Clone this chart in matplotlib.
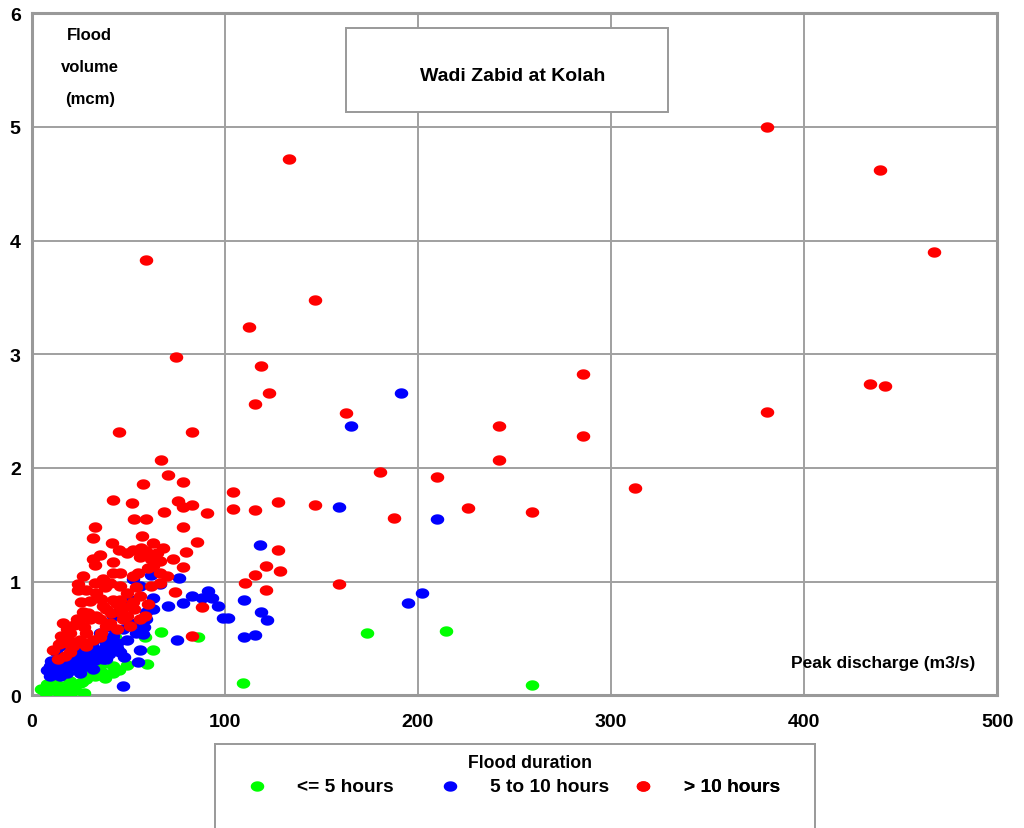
import numpy as np
import matplotlib
matplotlib.use("Agg")
import matplotlib.pyplot as plt
from matplotlib.patches import Rectangle

plt.rcParams['font.family'] = ['Liberation Sans', 'DejaVu Sans']
plt.rcParams['font.weight'] = 'bold'

# Peak discharge (m3/s) and flood volume (mcm)
green_x = [109.3, 259, 173.6, 214.5, 67, 62.7, 86, 59.6, 7.6, 12.8, 19.7, 9.3, 16.2, 24.9,
           28.3, 37.0, 42.1, 42.1, 49.1, 35.2, 30.1, 11.1, 6.7, 22.6, 43.0, 58.5,
           5, 8, 14, 18, 22, 26, 33, 38, 45, 31, 20, 12, 27]
green_y = [0.11, 0.09, 0.55, 0.57, 0.56, 0.40, 0.51, 0.28, 0.02, 0.05, 0.01, 0.08, 0.08, 0.11,
           0.14, 0.20, 0.20, 0.26, 0.27, 0.26, 0.20, 0.14, 0.04, 0.05, 0.51, 0.51,
           0.06, 0.10, 0.02, 0.06, 0.09, 0.12, 0.17, 0.15, 0.22, 0.24, 0.13, 0.11, 0.02]

blue_x = [191.2, 165.3, 159, 209.8, 118.1, 202, 194.8, 109.8, 118.7, 121.8, 115.5, 109.8,
          62.0, 76.3, 66.3, 62.9, 70.6, 78.4, 83.2, 87.9, 91.4, 93.1, 96.5, 99.1, 101.7,
          75.0, 56.0, 55.1, 47.3, 57.7, 59.4, 49.1, 45.6, 37.0, 28.3, 19.7, 11.1, 9.3,
          14.5, 23.1, 35.2, 42.1, 45.6, 50.8, 56.0, 50.8, 54.2, 52.5, 59.4, 16.2, 12.8,
          9.3, 18.0, 24.9, 30.1, 33.5, 38.7, 43.9, 47.3, 28.3, 21.4, 38.7, 31.8, 14.5,
          42.1, 35.2, 8, 10, 12, 15, 17, 20, 22, 25, 27, 30, 33, 26, 31, 38, 40, 44, 48,
          20, 15, 24, 52, 48, 58, 63, 40]
blue_y = [2.66, 2.37, 1.66, 1.55, 1.32, 0.90, 0.81, 0.84, 0.73, 0.66, 0.53, 0.51,
          1.06, 1.03, 0.98, 0.86, 0.79, 0.81, 0.87, 0.86, 0.92, 0.86, 0.79, 0.68, 0.68,
          0.49, 0.40, 0.29, 0.08, 0.54, 0.73, 0.49, 0.38, 0.32, 0.26, 0.26, 0.20, 0.17,
          0.17, 0.32, 0.40, 0.52, 0.76, 0.84, 0.96, 0.64, 0.55, 1.02, 0.67, 0.32, 0.38,
          0.26, 0.20, 0.20, 0.29, 0.38, 0.43, 0.46, 0.58, 0.38, 0.38, 0.32, 0.23, 0.43,
          0.70, 0.55, 0.22, 0.30, 0.25, 0.28, 0.24, 0.30, 0.27, 0.33, 0.28, 0.35, 0.31,
          0.42, 0.45, 0.48, 0.36, 0.42, 0.34, 0.35, 0.22, 0.24, 0.62, 0.70, 0.60, 0.76, 0.60]

red_x = [380.8, 439.4, 467.4, 133.2, 59.1, 146.6, 112.4, 74.6, 118.7, 285.5, 122.8, 115.5,
         162.7, 242, 380.8, 434.2, 442, 285.5, 242, 180.3, 209.8, 312.4, 127.5, 146.6,
         115.5, 226, 187.6, 259, 127.5, 121.3, 128.5, 115.5, 110.2, 159, 121.3,
         45.3, 83.2, 66.7, 70.5, 78.4, 57.5, 104.3, 42.1, 52.0, 75.5, 78.4, 83.2, 68.4,
         91.0, 104.3, 52.8, 59.1, 78.4, 32.6, 31.8, 57.3, 85.8, 41.8, 62.9, 56.8, 45.1,
         49.1, 52.5, 59.4, 64.6, 66.3, 62.0, 79.8, 35.2, 31.8, 32.6, 42.1, 45.6, 42.1,
         78.4, 55.1, 66.3, 26.6, 24.0, 24.0, 32.6, 37.0, 40.4, 45.6, 49.1, 54.2, 56.0,
         66.3, 74.4, 88.4, 33.5, 30.1, 25.7, 26.6, 24.9, 30.1, 33.5, 38.7, 40.4, 45.6,
         49.1, 50.8, 56.0, 38.7, 35.2, 28.3, 24.9, 19.7, 16.2, 15.4, 11.1, 13.6, 19.7,
         21.4, 83.2, 28.3, 31.8, 35.2, 42.1, 45.6, 52.5, 52.5, 56.0, 62.9, 28.3, 23.3,
         18.0, 37.0, 43.9, 47.3, 58.5, 14, 18, 22, 27, 36, 41, 44, 48, 53, 60, 62, 70,
         73, 68, 60, 36, 38, 29, 20, 17]
red_y = [5.00, 4.62, 3.90, 4.72, 3.83, 3.48, 3.24, 2.98, 2.90, 2.83, 2.66, 2.56,
         2.48, 2.37, 2.49, 2.74, 2.72, 2.28, 2.07, 1.96, 1.92, 1.82, 1.70, 1.67,
         1.63, 1.65, 1.56, 1.61, 1.28, 1.14, 1.09, 1.06, 0.99, 0.98, 0.93,
         2.32, 2.32, 2.07, 1.94, 1.88, 1.86, 1.79, 1.72, 1.69, 1.71, 1.66, 1.67, 1.61,
         1.60, 1.64, 1.55, 1.55, 1.48, 1.48, 1.38, 1.40, 1.35, 1.34, 1.34, 1.30, 1.28,
         1.25, 1.28, 1.27, 1.25, 1.18, 1.20, 1.26, 1.23, 1.20, 1.15, 1.17, 1.08, 1.08,
         1.13, 1.08, 1.08, 1.05, 0.98, 0.93, 0.99, 1.02, 0.99, 0.96, 0.90, 0.95, 0.87,
         0.99, 0.91, 0.78, 0.90, 0.83, 0.82, 0.73, 0.67, 0.67, 0.70, 0.76, 0.64, 0.73,
         0.70, 0.61, 0.67, 0.61, 0.51, 0.55, 0.49, 0.55, 0.64, 0.52, 0.40, 0.32, 0.38,
         0.43, 0.52, 0.43, 0.49, 0.67, 0.84, 0.84, 0.82, 1.05, 1.22, 1.14, 0.93, 0.67,
         0.46, 0.79, 0.58, 0.67, 0.70, 0.45, 0.58, 0.62, 0.60, 0.55, 0.72, 0.80, 0.78,
         0.76, 0.80, 0.96, 1.05, 1.20, 1.30, 1.12, 0.85, 0.95, 0.72, 0.48, 0.35]

labels = ['<= 5 hours', '5 to 10 hours', '> 10 hours']
x_ticks = [0, 100, 200, 300, 400, 500]
y_ticks = [0, 1, 2, 3, 4, 5, 6]

# ellipse marker, a bit wider than tall
t = np.linspace(0, 2 * np.pi, 40)
ell = np.column_stack([np.cos(t) * 1.3, np.sin(t)])

fig = plt.figure(figsize=(10.24, 8.29), dpi=100)
ax = fig.add_axes([0.031, 0.160, 0.943, 0.823])

g = ax.scatter(green_x, green_y, s=95, marker=ell, color='#00ff00', linewidths=0, zorder=3)
b = ax.scatter(blue_x, blue_y, s=95, marker=ell, color='#0000ff', linewidths=0, zorder=4)
r = ax.scatter(red_x, red_y, s=95, marker=ell, color='#ff0000', linewidths=0, zorder=5)

ax.set_xlim(0, 500)
ax.set_ylim(0, 6)
ax.set_xticks(x_ticks)
ax.set_yticks(y_ticks)
ax.tick_params(length=0, labelsize=14)
ax.tick_params(axis='x', pad=13)
ax.tick_params(axis='y', pad=8)
for lab in ax.get_xticklabels() + ax.get_yticklabels():
    lab.set_fontweight('bold')
ax.grid(True, color='#a0a0a0', linewidth=1.4)
ax.set_axisbelow(True)
for sp in ax.spines.values():
    sp.set_color('#999999')
    sp.set_linewidth(2.2)

ax.text(0.06, 0.922, 'Flood\nvolume\n(mcm)', transform=ax.transAxes, ha='center', va='center',
        fontsize=12, fontweight='bold', linespacing=2.4)
ax.add_patch(Rectangle((0.325, 0.855), 0.334, 0.123, transform=ax.transAxes, facecolor='white',
                       edgecolor='#999999', linewidth=1.4, zorder=6))
ax.text(0.498, 0.909, 'Wadi Zabid at Kolah', transform=ax.transAxes, ha='center', va='center',
        fontsize=14, fontweight='bold', zorder=7)
ax.text(0.977, 0.048, 'Peak discharge (m3/s)', transform=ax.transAxes, ha='right', va='center',
        fontsize=12.5, fontweight='bold', zorder=7)

# legend panel below the plot, entries evenly spaced like the original
lax = fig.add_axes([0.210, -0.05, 0.586, 0.151])
lax.set_xticks([])
lax.set_yticks([])
for sp in lax.spines.values():
    sp.set_color('#999999')
    sp.set_linewidth(1.4)
lax.text(0.525, 0.856, 'Flood duration', transform=lax.transAxes, ha='center', va='center',
         fontsize=12.7, fontweight='bold')
entry_x = [0.054, 0.376, 0.698]
for handle, lab, ex in zip([g, b, r], labels, entry_x):
    leg = lax.legend([handle], [lab], loc='center left', bbox_to_anchor=(ex, 0.665),
                     frameon=False, prop={'weight': 'bold', 'size': 13.8}, handlelength=1.0,
                     handletextpad=1.6, borderpad=0, borderaxespad=0)
    lax.add_artist(leg)

fig.savefig('out.png', dpi=100)
